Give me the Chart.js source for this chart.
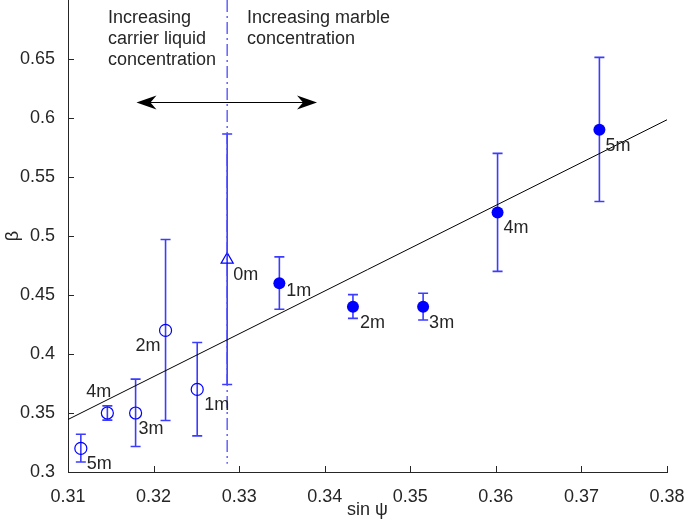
<!DOCTYPE html>
<html>
<head>
<meta charset="utf-8">
<script src="https://cdn.jsdelivr.net/npm/chart.js@4"></script>
<style>
  html, body { margin: 0; padding: 0; background: #fff; }
  canvas { display: block; }
</style>
</head>
<body>
<canvas id="chart" width="685" height="522"></canvas>
<script>
// carrier liquid series (open circles)
const openX = [0.3115, 0.3146, 0.3179, 0.3214, 0.3251];
const openY = [0.32, 0.35, 0.35, 0.42, 0.37];
const openLo = [0.3085, 0.344, 0.3216, 0.3436, 0.3306];
const openHi = [0.332, 0.356, 0.3787, 0.497, 0.4098];
const openLabels = ['5m', '4m', '3m', '2m', '1m'];

// reference point (triangle)
const refX = [0.3286];
const refY = [0.48];
const refLo = [0.3742];
const refHi = [0.5864];
const refLabels = ['0m'];

// marble series (filled circles)
const filledX = [0.3347, 0.3433, 0.3515, 0.3602, 0.3721];
const filledY = [0.46, 0.44, 0.44, 0.52, 0.59];
const filledLo = [0.4379, 0.4302, 0.4288, 0.470, 0.5292];
const filledHi = [0.4823, 0.4503, 0.4515, 0.570, 0.6514];
const filledLabels = ['1m', '2m', '3m', '4m', '5m'];

// linear fit and guide lines
const fitX = [0.31, 0.38];
const fitY = [0.3445, 0.5985];
const splitX = [0.3286, 0.3286];
const splitY = [0.7, 0.307];
const arrowX = [0.318, 0.3391];
const arrowY = 0.6138;

// axis ticks
const xTicks = [0.31, 0.32, 0.33, 0.34, 0.35, 0.36, 0.37, 0.38];
const yTicks = [0.3, 0.35, 0.4, 0.45, 0.5, 0.55, 0.6, 0.65];

// label offsets in px (style, not data)
const openOffsets = [[6, 16], [-21, -21], [3, 16], [-30, 16], [7, 16]];
const refOffsets = [[6, 15]];
const filledOffsets = [[7, 8], [7, 16], [6, 16], [6, 16], [6, 16]];

const FONT = 'Liberation Sans, Arial, Helvetica, sans-serif';
const AXIS = '#262626';
const BLUE = '#0000ff';
const ERR = '#3c3cff';

const toPts = (xs, ys) => xs.map((x, i) => ({x: x, y: ys[i]}));

const groups = [
  {x: openX, y: openY, lo: openLo, hi: openHi, labels: openLabels, off: openOffsets},
  {x: refX, y: refY, lo: refLo, hi: refHi, labels: refLabels, off: refOffsets},
  {x: filledX, y: filledY, lo: filledLo, hi: filledHi, labels: filledLabels, off: filledOffsets}
];

// error bars behind markers
const errorBars = {
  id: 'errorBars',
  beforeDatasetsDraw(chart) {
    const {ctx, scales: {x, y}} = chart;
    groups.forEach(g => {
      g.x.forEach((v, i) => {
        const px = x.getPixelForValue(v);
        const top = y.getPixelForValue(g.hi[i]);
        const bot = y.getPixelForValue(g.lo[i]);
        ctx.save();
        ctx.setLineDash([]);
        ctx.strokeStyle = ERR;
        ctx.lineWidth = 1.6;
        ctx.beginPath();
        ctx.moveTo(px, top); ctx.lineTo(px, bot);
        ctx.moveTo(px - 5, top); ctx.lineTo(px + 5, top);
        ctx.moveTo(px - 5, bot); ctx.lineTo(px + 5, bot);
        ctx.stroke();
        ctx.restore();
      });
    });
  }
};

// point labels, arrow, annotations, inward ticks
const overlay = {
  id: 'overlay',
  afterDatasetsDraw(chart) {
    const {ctx, scales: {x, y}, chartArea} = chart;
    ctx.save();
    ctx.fillStyle = AXIS;
    ctx.font = '18px ' + FONT;
    ctx.textBaseline = 'middle';
    ctx.textAlign = 'left';
    groups.forEach(g => {
      g.labels.forEach((t, i) => {
        const px = x.getPixelForValue(g.x[i]);
        const py = y.getPixelForValue(g.y[i]);
        ctx.fillText(t, px + g.off[i][0], py + g.off[i][1]);
      });
    });

    // annotations
    ctx.fillText('Increasing', 108, chartArea.top + 18);
    ctx.fillText('carrier liquid', 108, chartArea.top + 39);
    ctx.fillText('concentration', 108, chartArea.top + 60);
    ctx.fillText('Increasing marble', 247, chartArea.top + 18);
    ctx.fillText('concentration', 247, chartArea.top + 39);

    // double arrow
    const ax1 = x.getPixelForValue(arrowX[0]);
    const ax2 = x.getPixelForValue(arrowX[1]);
    const ay = Math.round(y.getPixelForValue(arrowY)) + 0.5;
    ctx.strokeStyle = '#000';
    ctx.lineWidth = 1;
    ctx.beginPath();
    ctx.moveTo(ax1 + 8, ay); ctx.lineTo(ax2 - 8, ay);
    ctx.stroke();
    ctx.fillStyle = '#000';
    const head = (tip, dir) => {
      ctx.beginPath();
      ctx.moveTo(tip, ay);
      ctx.lineTo(tip - dir * 20, ay - 7);
      ctx.lineTo(tip - dir * 14, ay);
      ctx.lineTo(tip - dir * 20, ay + 7);
      ctx.closePath();
      ctx.fill();
    };
    head(ax1, -1);
    head(ax2, 1);

    // inward tick marks
    ctx.strokeStyle = AXIS;
    ctx.beginPath();
    xTicks.forEach(v => {
      const px = Math.round(x.getPixelForValue(v)) + 0.5;
      ctx.moveTo(px, chartArea.bottom); ctx.lineTo(px, chartArea.bottom - 6);
    });
    yTicks.forEach(v => {
      const py = Math.round(y.getPixelForValue(v)) + 0.5;
      ctx.moveTo(chartArea.left, py); ctx.lineTo(chartArea.left + 6, py);
    });
    ctx.stroke();
    ctx.restore();
  }
};

new Chart(document.getElementById('chart').getContext('2d'), {
  type: 'scatter',
  data: {
    datasets: [
      {
        type: 'line', data: toPts(fitX, fitY), borderColor: '#000', borderWidth: 1,
        pointRadius: 0, fill: false
      },
      {
        type: 'line', data: toPts(splitX, splitY), borderColor: '#4a4aff', borderWidth: 1.3,
        borderDash: [12, 4, 2, 4], pointRadius: 0, fill: false
      },
      {
        data: toPts(openX, openY), pointStyle: 'circle', pointRadius: 6,
        borderColor: BLUE, backgroundColor: 'rgba(0,0,0,0)', borderWidth: 1.2
      },
      {
        data: toPts(refX, refY), pointStyle: 'triangle', pointRadius: 7,
        borderColor: BLUE, backgroundColor: 'rgba(0,0,0,0)', borderWidth: 1.2
      },
      {
        data: toPts(filledX, filledY), pointStyle: 'circle', pointRadius: 6,
        borderColor: BLUE, backgroundColor: BLUE, borderWidth: 0
      }
    ]
  },
  options: {
    responsive: false,
    animation: false,
    events: [],
    layout: {autoPadding: false, padding: {top: 0, right: 18, bottom: 0, left: 0}},
    plugins: {legend: {display: false}, tooltip: {enabled: false}},
    scales: {
      x: {
        type: 'linear', position: 'bottom', min: 0.31, max: 0.38,
        afterBuildTicks: s => { s.ticks = xTicks.map(v => ({value: v})); },
        afterFit: s => { s.height = 50; s.paddingLeft = 0; s.paddingRight = 0; },
        grid: {display: false},
        border: {display: true, color: AXIS, width: 1},
        ticks: {color: AXIS, padding: 6, maxRotation: 0, font: {family: FONT, size: 18},
          callback: v => v.toFixed(2)},
        title: {display: true, text: 'sin ψ', color: AXIS, font: {family: FONT, size: 18},
          padding: {top: 0, bottom: 1}}
      },
      y: {
        type: 'linear', position: 'left', min: 0.3, max: 0.7,
        afterBuildTicks: s => { s.ticks = yTicks.map(v => ({value: v})); },
        afterFit: s => { s.width = 68; s.paddingTop = 0; s.paddingBottom = 0; },
        grid: {display: false},
        border: {display: true, color: AXIS, width: 1},
        ticks: {color: AXIS, padding: 5, font: {family: FONT, size: 18},
          callback: v => String(parseFloat(v.toFixed(2)))},
        title: {display: true, text: 'β', color: AXIS, font: {family: FONT, size: 18},
          padding: {top: 2, bottom: 0}}
      }
    }
  },
  plugins: [errorBars, overlay]
});
</script>
</body>
</html>
